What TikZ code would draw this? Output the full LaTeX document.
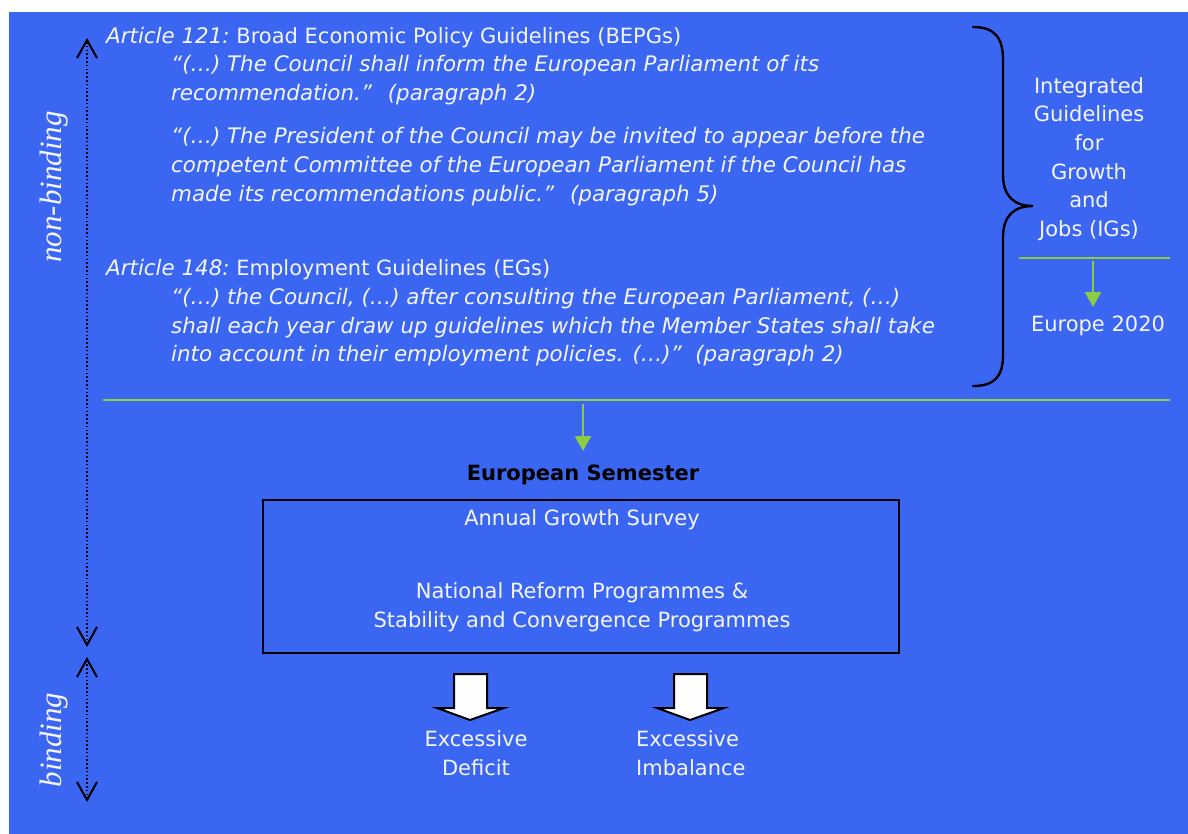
\documentclass[tikz,border=0pt]{standalone}
\usepackage{fontspec}
\setmainfont{DejaVu Sans}
\newfontfamily\serifit{Liberation Serif}[ItalicFont=* Italic]
\usetikzlibrary{arrows.meta}
\definecolor{bg}{RGB}{58,102,242}
\definecolor{grn}{RGB}{140,205,65}
\definecolor{txtc}{RGB}{245,245,255}
\begin{document}
\begin{tikzpicture}[x=1pt,y=-1pt,
  txt/.style={text=txtc,font=\fontsize{21}{28.7}\selectfont,inner sep=0pt},
  qt/.style={txt,anchor=base west,font=\fontsize{21.4}{28.7}\selectfont\itshape},
  hd/.style={txt,anchor=base west},
  side/.style={text=txtc,font=\fontsize{31}{31}\selectfont\serifit\itshape,rotate=90,anchor=base,inner sep=0pt},
  dotarrow/.style={line width=1.8pt,dash pattern=on 1.6pt off 2.2pt,{Straight Barb[length=18pt,width=20pt,line width=2pt]}-{Straight Barb[length=18pt,width=20pt,line width=2pt]}},
  gline/.style={grn,line width=2.5pt},
  garrow/.style={grn,line width=2.4pt,-{Triangle[length=15pt,width=16pt]}},
  blockarrow/.style={fill=white,draw=black,line width=2pt,line join=miter}
]
\useasboundingbox (0,0) rectangle (1188,834);
\fill[white] (0,0) rectangle (1188,834);
\fill[bg] (9,12) rectangle (1188,834);

% side labels and dotted arrows
\coordinate (nbtop) at (87,38);
\coordinate (nbbot) at (87,647);
\coordinate (btop) at (87,657);
\coordinate (bbot) at (87,802);
\draw[dotarrow] (nbbot) -- (nbtop);
\draw[dotarrow] (bbot) -- (btop);
\node[side] (nonbinding) at (61,187) {non-binding};
\node[side] (binding) at (61,740) {binding};

% article texts
\node[hd] (a121) at (106,44) {{\fontsize{21.4}{28.7}\selectfont\itshape Article 121:}\ Broad Economic Policy Guidelines (BEPGs)};
\node[qt] (q1) at (171,72) {“(…) The Council shall inform the European Parliament of its};
\node[qt] (q2) at (171,101) {recommendation.”~ (paragraph 2)};
\node[qt] (q3) at (171,144) {“(…) The President of the Council may be invited to appear before the};
\node[qt] (q4) at (171,173) {competent Committee of the European Parliament if the Council has};
\node[qt] (q5) at (171,202) {made its recommendations public.”~ (paragraph 5)};
\node[hd] (a148) at (106,276) {{\fontsize{21.4}{28.7}\selectfont\itshape Article 148:}\ Employment Guidelines (EGs)};
\node[qt] (e1) at (171,304) {“(…) the Council, (…) after consulting the European Parliament, (…)};
\node[qt] (e2) at (171,333) {shall each year draw up guidelines which the Member States shall take};
\node[qt] (e3) at (171,361) {into account in their employment policies. (…)”~ (paragraph 2)};

% brace
\draw[line width=2.4pt,line cap=round] (973,27) .. controls (995,27) and (1003,38) .. (1003,60) -- (1003,175)
  .. controls (1003,196) and (1014,206) .. (1033,206)
  .. controls (1014,206) and (1003,216) .. (1003,237) -- (1003,355)
  .. controls (1003,376) and (995,386) .. (973,386);

% integrated guidelines
\node[txt,align=center] (igs) at (1089,159) {Integrated\\Guidelines\\for\\Growth\\and\\Jobs (IGs)};
\coordinate (s1) at (1019,258);
\coordinate (s2) at (1170,258);
\draw[gline] (s1) -- (s2);
\coordinate (g1) at (1093,261);
\node[txt] (eu2020) at (1098,326) {Europe 2020};
\draw[garrow] (g1) -- (1093,307);

% long line
\coordinate (l1) at (103,400);
\coordinate (l2) at (1170,400);
\draw[gline] (l1) -- (l2);
\coordinate (g2) at (583,404);
\node[txt,text=black,font=\fontsize{21}{25}\selectfont\bfseries] (sem) at (583,475) {European Semester};
\draw[garrow] (g2) -- (583,451);

% box
\node[draw=black,line width=2pt,minimum width=636pt,minimum height=153pt,inner sep=0pt] (box) at (581,576.5) {};
\node[txt] (ags) at (582,520) {Annual Growth Survey};
\node[txt,align=center] (nrp) at (582,607) {National Reform Programmes \&\\Stability and Convergence Programmes};

% block arrows
\draw[blockarrow] (454,674) -- (487,674) -- (487,708) -- (504,708) -- (470,720) -- (437,708) -- (454,708) -- cycle;
\draw[blockarrow] (674,674) -- (707,674) -- (707,708) -- (724,708) -- (690,720) -- (657,708) -- (674,708) -- cycle;
\node[txt,align=center] (ed) at (476,753) {Excessive\\Deficit};
\node[txt,align=left,anchor=west] (ei) at (636,753) {Excessive\\Imbalance};
\end{tikzpicture}
\end{document}
